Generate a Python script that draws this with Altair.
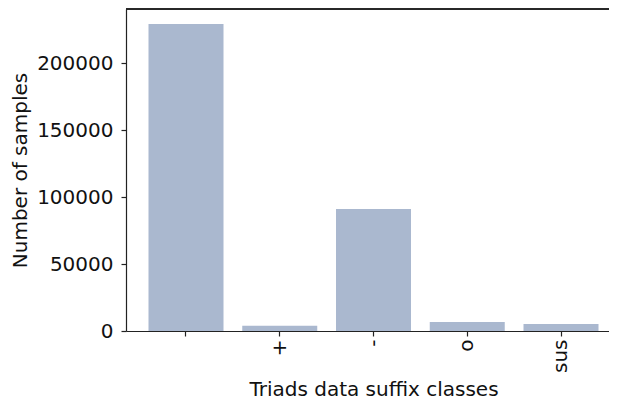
import altair as alt
import pandas as pd

categories = ["", "+", "-", "o", "sus"]
counts = [229100, 3900, 91000, 6700, 5200]
y_ticks = [0, 50000, 100000, 150000, 200000]

df = pd.DataFrame({"suffix": categories, "count": counts})

FONT = "DejaVu Sans"
TXT = "#111111"
AX = "#222222"

bars = alt.Chart(df).mark_bar(color="#aab8cf").encode(
    x=alt.X(
        "suffix:N",
        sort=categories,
        scale=alt.Scale(range=[0, 495], paddingInner=0.2, paddingOuter=0.24),
        axis=alt.Axis(
            title="Triads data suffix classes",
            labelAngle=-90,
            tickSize=5,
            labelPadding=3,
            titlePadding=7,
            domainColor=AX,
            tickColor=AX,
        ),
    ),
    y=alt.Y(
        "count:Q",
        scale=alt.Scale(domain=[0, 240300], nice=False, zero=True),
        axis=alt.Axis(
            title="Number of samples",
            values=y_ticks,
            format="d",
            grid=False,
            tickSize=5,
            labelPadding=8,
            titlePadding=6,
            domainColor=AX,
            tickColor=AX,
        ),
    ),
)

top_spine = alt.Chart(df).mark_rule(color=AX, strokeWidth=1).encode(
    x=alt.value(0), x2=alt.value(495), y=alt.value(0)
)

chart = (
    alt.layer(bars, top_spine)
    .properties(
        width=483,
        height=322,
        autosize=alt.AutoSizeParams(type="none"),
        padding={"left": 118, "top": 1, "right": 0, "bottom": 69},
    )
    .configure_view(stroke=None)
    .configure_axis(
        labelFont=FONT,
        titleFont=FONT,
        labelFontSize=20,
        titleFontSize=20,
        titleFontWeight="normal",
        labelColor=TXT,
        titleColor=TXT,
        domainWidth=1.2,
        tickWidth=1.2,
    )
)

chart.save("out.html", embed_options={"renderer": "svg", "actions": False})
